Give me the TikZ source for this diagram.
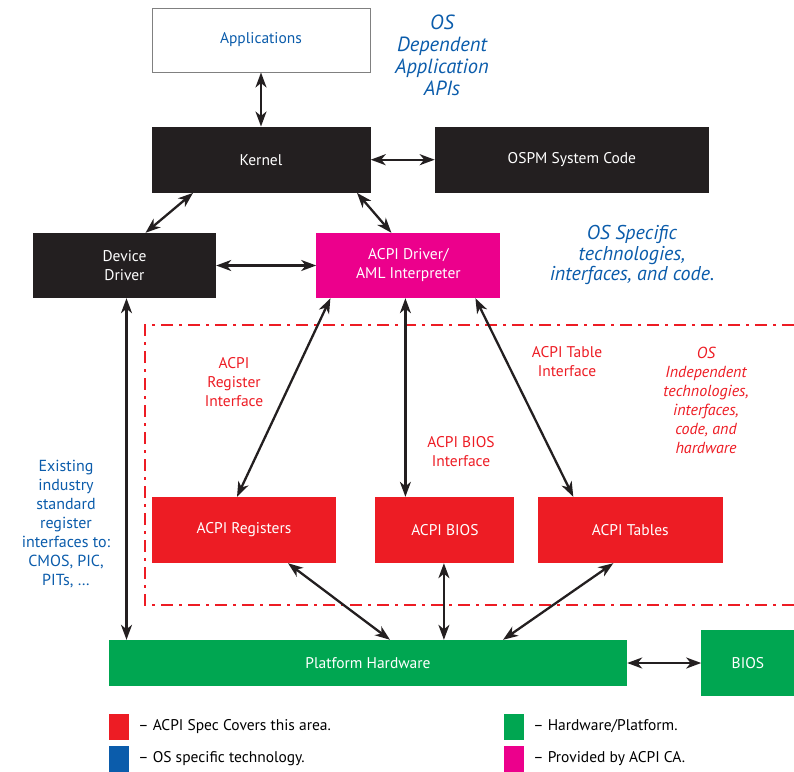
\documentclass[tikz,border=0pt]{standalone}
\usepackage{fontspec}
\setmainfont{PT Sans}
\usepackage{tikz}
\usetikzlibrary{arrows.meta,positioning}

\definecolor{acpired}{HTML}{ED1C24}
\definecolor{osblue}{HTML}{0B5CAB}
\definecolor{hwgreen}{HTML}{00A651}
\definecolor{camagenta}{HTML}{EC008C}
\definecolor{boxblack}{HTML}{231F20}

\begin{document}
\begin{tikzpicture}[x=1pt, y=-1pt,
    >={Stealth[length=15pt,width=11pt,inset=4.5pt]},
    node distance = 54pt and 64pt,
    box/.style = {draw=none, minimum height=66pt, inner sep=0pt, align=center,
                  font=\fontsize{15.5}{19}\selectfont},
  osbox/.style = {box, fill=boxblack, text=white},
  spbox/.style = {box, fill=acpired, text=white},
  hwbox/.style = {box, fill=hwgreen, text=white},
   link/.style = {<->, line width=2.3pt, draw=boxblack},
     el/.style = {align=center, font=\fontsize{15.5}{19}\selectfont},
   note/.style = {el, text=osblue, font=\fontsize{20}{20.5}\selectfont\itshape},
    key/.style = {minimum width=20pt, minimum height=26pt, inner sep=0pt},
 keytxt/.style = {inner sep=0pt, font=\fontsize{15.5}{18}\selectfont}
                    ]
\useasboundingbox (0,0) rectangle (794,771);
% boxes
\node (apps) [box, draw=gray, line width=1pt, fill=white, text=osblue,
              minimum width=218pt, minimum height=64pt] at (261,40) {Applications};
\node (kernel) [osbox, below=54pt of apps, minimum width=219pt]  {Kernel};
\node (ospm)   [osbox, right=64pt of kernel, minimum width=274pt] {OSPM System Code};
\node (devdrv) [osbox, minimum width=183pt, minimum height=65pt]
               at (124.5,265.5)                                  {Device\\Driver};
\node (acpidrv) [box, fill=camagenta, text=white, right=100pt of devdrv,
                 minimum width=184pt, minimum height=65pt]       {ACPI Driver/\\AML Interpreter};
\node (regs)   [spbox, minimum width=184pt] at (244,530)         {ACPI Registers};
\node (abios)  [spbox, right=39pt of regs, minimum width=139pt]  {ACPI BIOS};
\node (tables) [spbox, right=23pt of abios, minimum width=185pt] {ACPI Tables};
\node (ph)     [hwbox, minimum width=518pt, minimum height=46pt]
               at (368,663)                                      {Platform Hardware};
\node (bios)   [hwbox, right=74pt of ph, minimum width=93pt]     {BIOS};

% OS independent area
\draw[acpired, line width=2.5pt, dash pattern=on 12pt off 6pt on 3pt off 6pt]
    (794,325) -- (145,325) -- (145,605) -- (794,605);

% connectors
\draw[link] (apps) -- (kernel);
\draw[link] (kernel) -- (ospm);
\draw[link] ([xshift=-68pt]kernel.south) -- ([xshift=21pt]devdrv.north);
\draw[link] ([xshift=96pt]kernel.south) -- ([xshift=-17pt]acpidrv.north);
\draw[link] (devdrv) -- (acpidrv);
\draw[link] ([xshift=2pt]devdrv.south) -- ([xshift=2pt]devdrv.south |- ph.north);
\draw[link] ([xshift=-78pt]acpidrv.south) -- ([xshift=-7pt]regs.north);
\draw[link] ([xshift=-3pt]acpidrv.south) -- ([xshift=-3pt]acpidrv.south |- abios.north);
\draw[link] ([xshift=67pt]acpidrv.south) -- ([xshift=-57pt]tables.north);
\draw[link] ([xshift=44pt]regs.south) -- ([xshift=22pt]ph.north);
\draw[link] ([xshift=-1pt]abios.south) -- ([xshift=-1pt]abios.south |- ph.north);
\draw[link] ([xshift=-17pt]tables.south) -- ([xshift=135pt]ph.north);
\draw[link] (ph) -- (bios);

% labels
\node (regif)  [el, text=acpired] at (234,382) {ACPI\\Register\\Interface};
\node (tabif)  [el, text=acpired] at (567,362) {ACPI Table\\Interface};
\node (biosif) [el, text=acpired] at (461,452) {ACPI BIOS\\Interface};
\node (osindep) [el, text=acpired, font=\fontsize{16}{19}\selectfont\itshape]
                at (706,400) {OS\\Independent\\technologies,\\interfaces,\\code, and\\hardware};
\node (osdep)  [note, font=\fontsize{20.5}{22}\selectfont\itshape]
               at (442,55) {OS\\Dependent\\Application\\APIs};
\node (osspec) [note] at (632,255) {OS Specific\\technologies,\\interfaces, and code.};
\node (legacy) [el, text=osblue, font=\fontsize{16}{19}\selectfont] at (66,524)
               {Existing\\industry\\standard\\register\\interfaces to:\\CMOS, PIC,\\PITs, \ldots};

% legend
\node (keyred)   [key, fill=acpired] at (119,726.5) {};
\node (keyblue)  [key, fill=osblue, below=6pt of keyred] {};
\node (keygreen) [key, fill=hwgreen] at (514,726.5) {};
\node (keymag)   [key, fill=camagenta, below=6pt of keygreen] {};
\node (keyredtxt)   [keytxt, right=9pt of keyred]   {-- ACPI Spec Covers this area.};
\node (keybluetxt)  [keytxt, right=9pt of keyblue]  {-- OS specific technology.};
\node (keygreentxt) [keytxt, right=9pt of keygreen] {-- Hardware/Platform.};
\node (keymagtxt)   [keytxt, right=9pt of keymag]   {-- Provided by ACPI CA.};
\end{tikzpicture}
\end{document}
